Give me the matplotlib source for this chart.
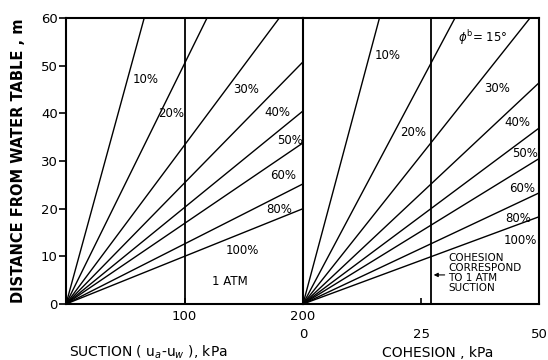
import matplotlib
matplotlib.use("Agg")
import matplotlib.pyplot as plt

# ---- data ----
percent_labels = ['10%', '20%', '30%', '40%', '50%', '60%', '80%', '100%']
# end points of each line in the suction panel (kPa, m)
suction_end_x = [66, 119, 180, 200, 200, 200, 200, 200]
suction_end_y = [60, 60, 60, 50.8, 40.5, 33.8, 25.2, 20.0]
# end points of each line in the cohesion panel (kPa, m)
cohesion_end_x = [16.2, 32.2, 48.1, 50, 50, 50, 50, 50]
cohesion_end_y = [60, 60, 60, 46.4, 36.9, 30.5, 23.3, 18.3]

# label positions
suction_lab_x = [67, 89, 152, 178, 189, 183, 180, 149]
suction_lab_y = [47.2, 40.0, 44.9, 40.1, 34.4, 26.9, 19.9, 11.3]
cohesion_lab_x = [18.0, 23.3, 41.1, 45.5, 47.0, 46.4, 45.6, 46.0]
cohesion_lab_y = [52.2, 36.0, 45.3, 38.0, 31.5, 24.3, 18.0, 13.4]

atm_suction = 100          # kPa (1 ATM line)
atm_cohesion = 27.1        # kPa (cohesion corresponding to 1 ATM suction)

suction_ticks = [100, 200]
cohesion_ticks = [0, 25, 50]
y_ticks = [0, 10, 20, 30, 40, 50, 60]

fig = plt.figure(figsize=(5.48, 3.60), dpi=100)
axL = fig.add_axes([66/548, 1-304/360, 237/548, 286/360])
axR = fig.add_axes([303/548, 1-304/360, 236/548, 286/360])

lw = 1.0
for ax in (axL, axR):
    for s in ax.spines.values():
        s.set_linewidth(1.5)
    ax.set_ylim(0, 60)

# left panel
axL.set_xlim(0, 200)
axL.spines['right'].set_visible(False)
for ex, ey in zip(suction_end_x, suction_end_y):
    axL.plot([0, ex], [0, ey], color='black', lw=lw, solid_capstyle='butt')
axL.axvline(atm_suction, color='black', lw=1.3)
for t, x, y in zip(percent_labels, suction_lab_x, suction_lab_y):
    axL.text(x, y, t, ha='center', va='center', fontsize=8.5)
axL.text(138, 4.8, '1 ATM', ha='center', va='center', fontsize=8.5)
axL.set_xticks(suction_ticks)
axL.set_xticklabels([str(v) for v in suction_ticks])
axL.set_yticks(y_ticks)
axL.tick_params(axis='x', direction='in', length=4, width=1.2, pad=4, labelsize=9.5)
axL.tick_params(axis='y', direction='out', length=5, width=1.2, pad=1, labelsize=9.5)
axL.set_ylabel('DISTANCE FROM WATER TABLE , m', fontsize=10.5, fontweight='bold', va='center')
axL.yaxis.set_label_coords(-0.2, 0.5)
axL.set_xlabel('SUCTION ( u$_a$-u$_w$ ), kPa', fontsize=10, va='center')
axL.xaxis.set_label_coords(0.346, -0.168)

# right panel
axR.set_xlim(0, 50)
for ex, ey in zip(cohesion_end_x, cohesion_end_y):
    axR.plot([0, ex], [0, ey], color='black', lw=lw, solid_capstyle='butt')
axR.axvline(atm_cohesion, color='black', lw=1.3)
for t, x, y in zip(percent_labels, cohesion_lab_x, cohesion_lab_y):
    axR.text(x, y, t, ha='center', va='center', fontsize=8.5)
axR.text(38.1, 55.8, r'$\phi^{\mathrm{b}}$= 15°', ha='center', va='center', fontsize=8.5)
axR.text(30.7, 6.5, 'COHESION\nCORRESPOND\nTO 1 ATM\nSUCTION', ha='left', va='center',
         fontsize=7.5, linespacing=1.0)
axR.annotate('', xy=(atm_cohesion, 6.1), xytext=(30.6, 6.1),
             arrowprops=dict(arrowstyle='-|>', color='black', lw=0.8, mutation_scale=6))
axR.set_xticks(cohesion_ticks)
axR.set_xticklabels([str(v) for v in cohesion_ticks])
axR.set_yticks([])
axR.tick_params(axis='x', direction='in', length=4, width=1.2, pad=17, labelsize=9.5)
axR.set_xlabel('COHESION , kPa', fontsize=10, va='center')
axR.xaxis.set_label_coords(0.572, -0.171)

fig.savefig('out.png', dpi=100)
